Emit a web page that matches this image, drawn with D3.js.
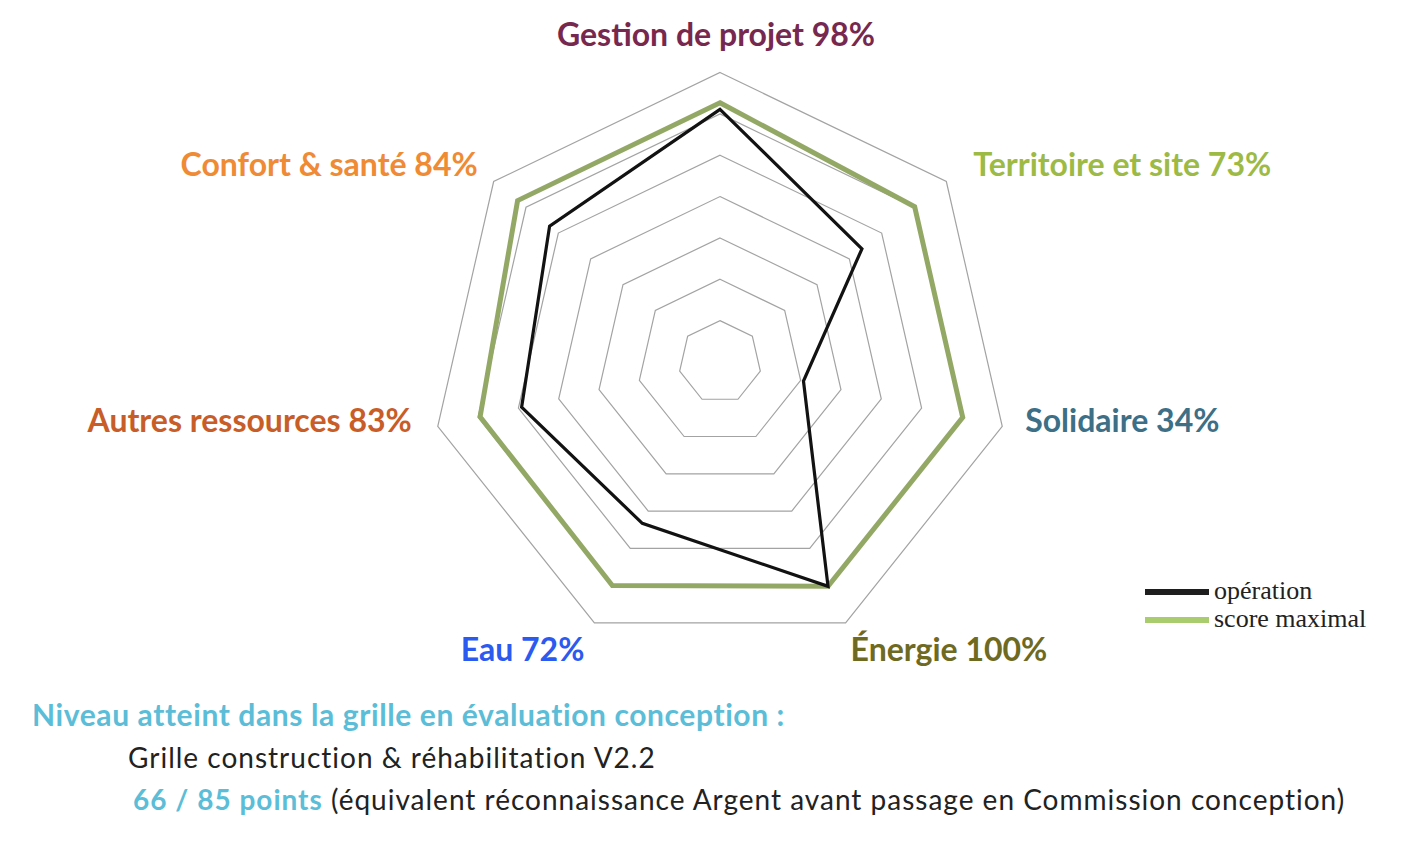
<!DOCTYPE html>
<html>
<head>
<meta charset="utf-8">
<script src="https://cdn.jsdelivr.net/npm/d3@7/dist/d3.min.js"></script>
<style>
  body { margin: 0; background: #fff; }
  svg { display: block; }
</style>
</head>
<body>
<div id="chart"></div>
<script>
// Axis labels, clockwise from the top
const categories = ['Gestion de projet', 'Territoire et site', 'Solidaire', 'Énergie', 'Eau', 'Autres ressources', 'Confort & santé'];
const percentLabels = ['98%', '73%', '34%', '100%', '72%', '83%', '84%'];
const labelColors = ['#77284f', '#9dba45', '#3d6f86', '#6e6a22', '#2b5af0', '#c85d27', '#ef8a35'];
// values, in grid-ring units
const operationValues = [6.11, 4.39, 2.07, 6.02, 4.33, 4.92, 5.27];
const maxScoreValues = [6.27, 6.02, 6.02, 6.02, 6.0, 5.95, 6.26];
const ringTicks = [1, 2, 3, 4, 5, 6, 7];
const seriesNames = ['opération', 'score maximal'];

const W = 1426, H = 862;
const cx = 720, cy = 362, R = 289.5;

const svg = d3.select('#chart').append('svg')
    .attr('width', W)
    .attr('height', H);

const r = d3.scaleLinear().domain([0, 7]).range([0, R]);
const angle = d3.scalePoint().domain(categories).range([0, 2 * Math.PI * 6 / 7]);

const g = svg.append('g').attr('transform', `translate(${cx},${cy})`);

const radial = d3.lineRadial()
    .angle(d => angle(d.cat))
    .radius(d => r(d.v))
    .curve(d3.curveLinearClosed);

// grid rings
g.selectAll('.ring')
    .data(ringTicks)
    .enter().append('path')
    .attr('class', 'ring')
    .attr('d', t => radial(categories.map(c => ({ cat: c, v: t }))))
    .attr('fill', 'none')
    .attr('stroke', '#a3a3a3')
    .attr('stroke-width', 1.2);

// max score series
g.append('path')
    .attr('d', radial(categories.map((c, i) => ({ cat: c, v: maxScoreValues[i] }))))
    .attr('fill', 'none')
    .attr('stroke', '#94a866')
    .attr('stroke-width', 5)
    .attr('stroke-linejoin', 'miter');

// operation series
g.append('path')
    .attr('d', radial(categories.map((c, i) => ({ cat: c, v: operationValues[i] }))))
    .attr('fill', 'none')
    .attr('stroke', '#121212')
    .attr('stroke-width', 3.2)
    .attr('stroke-linejoin', 'miter');

// category labels, offset from the outer vertex
const labelOffsets = [
    { dx: -4, dy: -27, anchor: 'middle' },
    { dx: 27, dy: -6, anchor: 'start' },
    { dx: 23, dy: 6, anchor: 'start' },
    { dx: 5, dy: 38, anchor: 'start' },
    { dx: -10, dy: 38, anchor: 'end' },
    { dx: -26, dy: 6, anchor: 'end' },
    { dx: -16, dy: -6, anchor: 'end' }
];

g.selectAll('.cat-label')
    .data(categories)
    .enter().append('text')
    .attr('class', 'cat-label')
    .attr('x', (c, i) => r(7) * Math.sin(angle(c)) + labelOffsets[i].dx)
    .attr('y', (c, i) => -r(7) * Math.cos(angle(c)) + labelOffsets[i].dy)
    .attr('text-anchor', (c, i) => labelOffsets[i].anchor)
    .attr('font-family', 'Lato, sans-serif')
    .attr('font-weight', 'bold')
    .attr('font-size', '32px')
    .attr('fill', (c, i) => labelColors[i])
    .text((c, i) => `${c} ${percentLabels[i]}`);

// legend
const legend = svg.append('g').attr('transform', 'translate(1145,592)');
const legendColors = ['#1e1e1e', '#a9cd6e'];
seriesNames.forEach((name, i) => {
    legend.append('rect')
        .attr('x', 0)
        .attr('y', i * 28 - 3)
        .attr('width', 64)
        .attr('height', 6)
        .attr('fill', legendColors[i]);
    legend.append('text')
        .attr('x', 69)
        .attr('y', i * 28 + 7)
        .attr('font-family', '"Liberation Serif", serif')
        .attr('font-size', '26px')
        .attr('fill', '#222')
        .text(name);
});

// footer text
svg.append('text')
    .attr('x', 32)
    .attr('y', 726)
    .attr('font-family', 'Lato, sans-serif')
    .attr('font-weight', 'bold')
    .attr('font-size', '30px')
    .attr('letter-spacing', '0.6px')
    .attr('fill', '#5bbdd7')
    .text('Niveau atteint dans la grille en évaluation conception :');

svg.append('text')
    .attr('x', 128)
    .attr('y', 768)
    .attr('font-family', 'Lato, sans-serif')
    .attr('font-size', '28px')
    .attr('letter-spacing', '1px')
    .attr('fill', '#222')
    .text('Grille construction & réhabilitation V2.2');

const line3 = svg.append('text')
    .attr('x', 133)
    .attr('y', 810)
    .attr('font-family', 'Lato, sans-serif')
    .attr('font-size', '28px')
    .attr('letter-spacing', '1px');
line3.append('tspan')
    .attr('font-weight', 'bold')
    .attr('fill', '#5bbdd7')
    .text('66 / 85 points');
line3.append('tspan')
    .attr('fill', '#222')
    .text(' (équivalent réconnaissance Argent avant passage en Commission conception)');
</script>
</body>
</html>
